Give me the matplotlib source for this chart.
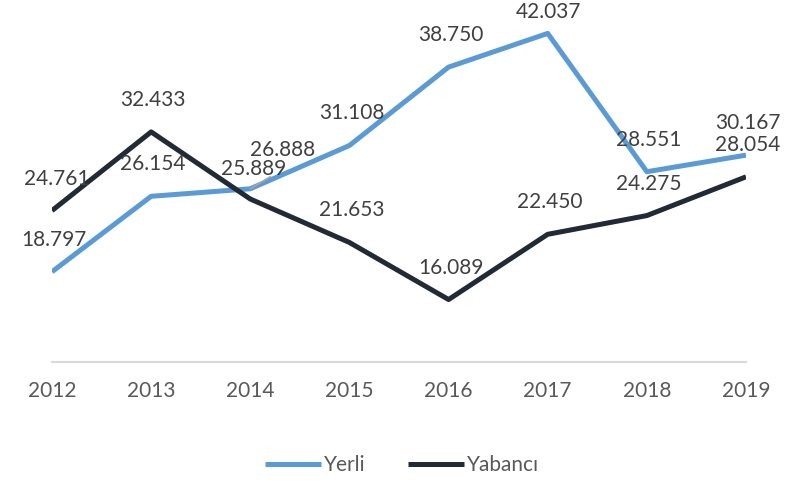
import matplotlib.pyplot as plt

plt.rcParams['font.family'] = ['Lato', 'DejaVu Sans']

years = ["2012", "2013", "2014", "2015", "2016", "2017", "2018", "2019"]
yerli = [18.797, 26.154, 26.888, 31.108, 38.750, 42.037, 28.551, 30.167]
yabanci = [24.761, 32.433, 25.889, 21.653, 16.089, 22.450, 24.275, 28.054]

# label offsets in pixels (default is straight above the point)
yerli_offsets = {2: (32, 39), 5: (1, 21)}
yabanci_offsets = {0: (5, 32), 2: (3, 30)}

fig = plt.figure(figsize=(7.93, 4.83), dpi=100)
ax = fig.add_axes([52 / 793, 121 / 483, 694 / 793, 359 / 483])

x = list(range(len(years)))
ax.plot(x, yerli, color="#5B9BD5", lw=3.6, label="Yerli", solid_capstyle="butt")
ax.plot(x, yabanci, color="#222A35", lw=3.6, label="Yabancı", solid_capstyle="butt")

ax.set_xlim(0, len(years) - 1)
ax.set_ylim(10, 45)


def fmt(v):
    return f"{v:.3f}"


for series, offsets in [(yerli, yerli_offsets), (yabanci, yabanci_offsets)]:
    for i, v in enumerate(series):
        dx, dy = offsets.get(i, (2, 32))
        ax.annotate(fmt(v), (i, v), xytext=(dx, dy), textcoords="offset pixels",
                    ha="center", va="center", fontsize=15, color="#404040",
                    annotation_clip=False)

# small leader line for the shifted 2014 label
ax.annotate("", (2, yerli[2]), xytext=(20, 12), textcoords="offset pixels",
            arrowprops=dict(arrowstyle="-", color="#A6A6A6", lw=1.2,
                            shrinkA=0, shrinkB=0))

for s in ["left", "right", "top"]:
    ax.spines[s].set_visible(False)
ax.spines["bottom"].set_color("#D9D9D9")
ax.spines["bottom"].set_linewidth(1.5)
ax.set_yticks([])
ax.set_xticks(x)
ax.set_xticklabels(years)
ax.tick_params(axis="x", length=0, pad=14, labelsize=15, labelcolor="#595959")

fig.legend(loc="center", bbox_to_anchor=(402 / 793, 1 - 465 / 483), ncol=2,
           frameon=False, fontsize=15, labelcolor="#595959",
           handlelength=2.7, handletextpad=0.15, columnspacing=2.0)

fig.savefig("out.png", dpi=100)
